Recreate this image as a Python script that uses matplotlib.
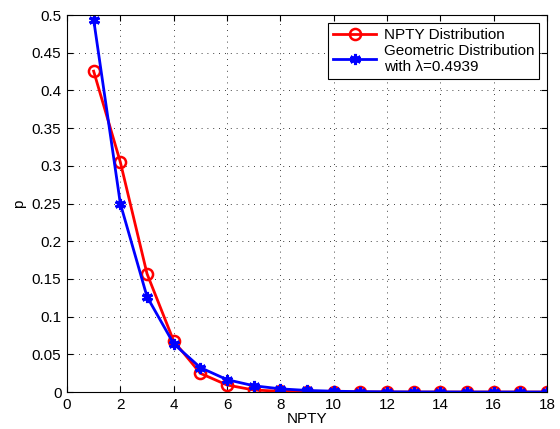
import matplotlib.pyplot as plt

plt.rcParams['font.family'] = ['Liberation Sans', 'DejaVu Sans']

# --- data ---
npty = list(range(1, 19))
p_npty = [0.4255, 0.305, 0.157, 0.0676, 0.0248, 0.0093, 0.0027, 0.001, 0.0005,
          0.0002, 0.0001, 0, 0, 0, 0, 0, 0, 0]
p_geom = [0.4939, 0.2500, 0.1265, 0.0640, 0.0324, 0.0164, 0.0083, 0.0042, 0.0021,
          0.0011, 0.0005, 0.0003, 0.0001, 0.0001, 0, 0, 0, 0]
x_ticks = list(range(0, 19, 2))
y_ticks = [0, 0.05, 0.1, 0.15, 0.2, 0.25, 0.3, 0.35, 0.4, 0.45, 0.5]
y_labels = ['0', '0.05', '0.1', '0.15', '0.2', '0.25', '0.3', '0.35', '0.4', '0.45', '0.5']

fig = plt.figure(figsize=(5.6, 4.29), dpi=100)
ax = fig.add_axes([0.1196, 0.0862, 0.8574, 0.8788])

ax.plot(npty, p_npty, color='red', lw=2, marker='o', ms=8, mfc='none',
        mec='red', mew=1.8, label='NPTY Distribution')
ax.plot(npty, p_geom, color='blue', lw=2, marker=(6, 2, 0), ms=8,
        mec='blue', mew=2.2, label='Geometric Distribution\nwith \u03bb=0.4939')

ax.set_xlim(0, 18)
ax.set_ylim(0, 0.5)
ax.set_xticks(x_ticks)
ax.set_yticks(y_ticks)
ax.set_yticklabels(y_labels)
ax.tick_params(direction='in', top=True, right=True, labelsize=11, length=4, pad=4)
ax.grid(True, linestyle=(0, (1, 6)), color='black', lw=0.6)
ax.set_xlabel('NPTY', fontsize=11, labelpad=0)
ax.set_ylabel('p', fontsize=11)
for s in ax.spines.values():
    s.set_linewidth(0.8)

leg = ax.legend(loc='upper right', fontsize=11, fancybox=False, framealpha=1,
                edgecolor='black', handlelength=2.8, borderaxespad=0.5,
                labelspacing=0.1, handletextpad=0.5, borderpad=0.35)
leg.get_frame().set_linewidth(0.8)

fig.savefig('out.png', dpi=100)
